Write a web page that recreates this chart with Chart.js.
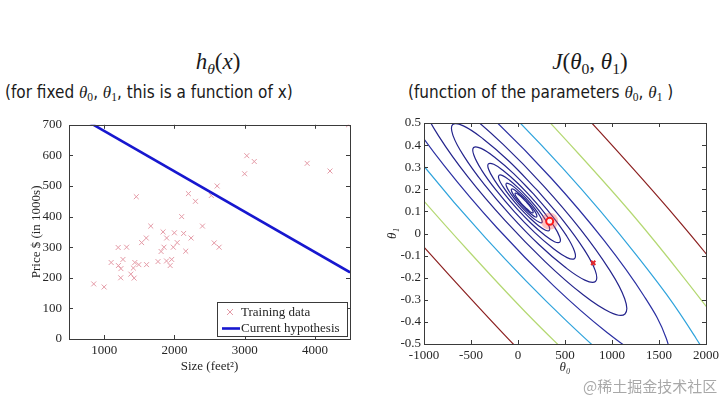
<!DOCTYPE html>
<html>
<head>
<meta charset="utf-8">
<script src="https://cdn.jsdelivr.net/npm/chart.js@4.4.0/dist/chart.umd.min.js"></script>
<style>
  html, body { margin: 0; padding: 0; background: #fff; }
  body { width: 725px; height: 398px; position: relative; overflow: hidden; }
  canvas { position: absolute; }
  #left { left: 0; top: 110px; }
  #right { left: 362px; top: 110px; }
  .title { position: absolute; width: 220px; text-align: center; font-family: 'Liberation Serif', serif; font-size: 23px; line-height: 23px; color: #1a1a1a; white-space: nowrap; }
  .sub { position: absolute; font-family: 'Liberation Sans Narrow', 'DejaVu Sans Condensed', sans-serif; font-size: 17px; line-height: 20px; color: #1a1a1a; white-space: nowrap; }
  .m { font-family: 'Liberation Serif', serif; font-style: italic; }
  .s { font-family: 'Liberation Serif', serif; font-size: 0.68em; vertical-align: -0.3em; }
  .mark { position: absolute; left: 583px; top: 375px; font-family: 'Noto Sans CJK SC', sans-serif; font-size: 15px; color: rgba(110,110,110,0.6); white-space: nowrap; }
</style>
</head>
<body>
<div class="title" style="left:108px; top:50px"><i>h</i><span class="s"><i>θ</i></span>(<i>x</i>)</div>
<div class="title" style="left:480px; top:50px"><i>J</i>(<i>θ</i><span class="s">0</span>, <i>θ</i><span class="s">1</span>)</div>
<div class="sub" style="left:5px; top:82px">(for fixed <span class="m">θ</span><span class="s">0</span>, <span class="m">θ</span><span class="s">1</span>, this is a function of x)</div>
<div class="sub" style="left:408px; top:82px">(function of the parameters <span class="m">θ</span><span class="s">0</span>, <span class="m">θ</span><span class="s">1</span> )</div>
<canvas id="left" width="362" height="265"></canvas>
<canvas id="right" width="363" height="275"></canvas>
<div class="mark">@稀土掘金技术社区</div>
<script>
// training data: size (feet^2) and price ($1000s)
const houseSize = [2104, 1600, 2400, 1416, 3000, 1985, 1534, 1427, 1380, 1494, 1940, 2000, 1890, 4478, 1268, 2300,
  1320, 1236, 2609, 3031, 1767, 1888, 1604, 1962, 3890, 1100, 1458, 2526, 2200, 2637, 1839, 1000, 2040, 3137,
  1811, 1437, 1239, 2132, 4215, 2162, 1664, 2238, 2567, 1200, 852, 1852, 1203];
const housePrice = [400, 330, 369, 232, 540, 300, 315, 199, 212, 243, 240, 347, 330, 700, 260, 450,
  300, 200, 500, 599, 253, 255, 243, 260, 574, 250, 465, 469, 475, 300, 350, 170, 315, 580,
  286, 250, 230, 345, 549, 287, 369, 330, 314, 299, 180, 300, 240];

// current hypothesis line, read at the two ends
const hypothesisX = [500, 4500];
const hypothesisY = [746, 218];

const sizeTicks = [1000, 2000, 3000, 4000];
const priceTicks = [0, 100, 200, 300, 400, 500, 600, 700];
const theta0Ticks = [-1000, -500, 0, 500, 1000, 1500, 2000];
const theta1Ticks = [-0.5, -0.4, -0.3, -0.2, -0.1, 0, 0.1, 0.2, 0.3, 0.4, 0.5];

// contour lines of J, traced as [theta0, theta1] points (inner to outer)
const contourLevel1 = [[83,0.145],[45,0.162],[11,0.174],[-16,0.182],[-30,0.182],[-30,0.176],[-15,0.164],[12,0.149],[47,0.131],[85,0.115],[119,0.102],[146,0.094],[160,0.094],[160,0.100],[145,0.112],[118,0.128],[83,0.145]];
const contourLevel2 = [[91,0.148],[37,0.171],[-12,0.189],[-49,0.200],[-69,0.201],[-69,0.192],[-48,0.175],[-10,0.153],[40,0.128],[93,0.105],[142,0.087],[179,0.076],[199,0.075],[199,0.084],[178,0.101],[140,0.123],[91,0.148]];
const contourLevel3 = [[101,0.152],[26,0.185],[-44,0.211],[-97,0.225],[-125,0.227],[-124,0.215],[-95,0.191],[-41,0.159],[29,0.124],[104,0.091],[174,0.065],[227,0.051],[255,0.049],[254,0.061],[225,0.085],[171,0.117],[101,0.152]];
const contourLevel4 = [[116,0.158],[9,0.204],[-89,0.241],[-163,0.262],[-203,0.263],[-203,0.246],[-161,0.213],[-85,0.168],[14,0.118],[121,0.072],[219,0.035],[293,0.015],[333,0.013],[333,0.030],[291,0.063],[215,0.108],[116,0.158]];
const contourLevel5 = [[137,0.166],[-14,0.232],[-152,0.283],[-258,0.313],[-315,0.315],[-313,0.291],[-254,0.244],[-147,0.180],[-7,0.110],[144,0.044],[282,-0.007],[388,-0.037],[445,-0.039],[443,-0.015],[384,0.033],[277,0.096],[137,0.166]];
const contourLevel6 = [[167,0.178],[-46,0.271],[-242,0.343],[-392,0.385],[-472,0.389],[-470,0.355],[-387,0.287],[-235,0.197],[-37,0.098],[176,0.005],[372,-0.067],[522,-0.109],[602,-0.113],[600,-0.079],[517,-0.011],[365,0.079],[167,0.178]];
const contourLevel7 = [[209,0.194],[-92,0.326],[-370,0.428],[-581,0.487],[-694,0.493],[-692,0.444],[-574,0.349],[-359,0.222],[-79,0.082],[222,-0.050],[500,-0.152],[711,-0.211],[824,-0.217],[822,-0.168],[704,-0.073],[489,0.054],[209,0.194]];
// outer levels start at their upper-left end, outside the plot
const contourLevel8 = [[-1008,0.640],[-1005,0.571],[-838,0.437],[-535,0.257],[-139,0.059],[288,-0.127],[680,-0.273],[979,-0.356],[1138,-0.364],[1135,-0.295],[968,-0.161],[665,0.019],[269,0.217],[-158,0.403],[-550,0.549],[-849,0.632],[-1008,0.640]];
const contourLevel9 = [[-1453,0.847],[-1448,0.751],[-1212,0.560],[-783,0.306],[-224,0.026],[380,-0.237],[934,-0.443],[1357,-0.561],[1583,-0.571],[1578,-0.475],[1342,-0.284],[913,-0.030],[354,0.250],[-250,0.513],[-804,0.719],[-1227,0.837],[-1453,0.847]];
const contourLevel10 = [[-2082,1.141],[-2075,1.004],[-1741,0.735],[-1134,0.376],[-343,-0.021],[510,-0.393],[1294,-0.683],[1892,-0.850],[2212,-0.865],[2205,-0.728],[1871,-0.459],[1264,-0.100],[473,0.297],[-380,0.669],[-1164,0.959],[-1762,1.126],[-2082,1.141]];
const contourLevel11 = [[-2971,1.557],[-2961,1.363],[-2489,0.982],[-1631,0.474],[-512,-0.086],[695,-0.613],[1803,-1.024],[2649,-1.259],[3101,-1.281],[3091,-1.087],[2619,-0.706],[1761,-0.198],[642,0.362],[-565,0.889],[-1673,1.300],[-2519,1.535],[-2971,1.557]];
const contourLevel12 = [[-4228,2.144],[-4214,1.870],[-3547,1.332],[-2333,0.613],[-751,-0.179],[955,-0.924],[2523,-1.505],[3719,-1.838],[4358,-1.868],[4344,-1.594],[3677,-1.056],[2463,-0.337],[881,0.455],[-825,1.200],[-2393,1.781],[-3589,2.114],[-4228,2.144]];

const contourLevels = [contourLevel1, contourLevel2, contourLevel3, contourLevel4, contourLevel5, contourLevel6,
  contourLevel7, contourLevel8, contourLevel9, contourLevel10, contourLevel11, contourLevel12];
const contourColors = ['#24248c', '#24248c', '#24248c', '#24248c', '#24248c', '#24248c',
  '#24248c', '#24248c', '#2a2fa2', '#2ea3dc', '#b4d872', '#8b1f1f'];

// current (theta0, theta1) and the pointer on the contour plot
const currentTheta = [800, -0.133];
const pointerTheta = [337, 0.055];

const serif = { family: "'Liberation Serif', 'Times New Roman', serif", size: 13 };
const ink = '#262626';

const axesBox = {
  id: 'axesBox',
  afterDatasetsDraw(chart) {
    const { ctx, chartArea: a, scales: { x, y } } = chart;
    ctx.save();
    ctx.strokeStyle = '#3a3a3a';
    ctx.lineWidth = 1;
    ctx.beginPath();
    x.ticks.forEach(t => {
      const px = Math.round(x.getPixelForValue(t.value)) + 0.5;
      ctx.moveTo(px, a.bottom); ctx.lineTo(px, a.bottom - 4);
      ctx.moveTo(px, a.top); ctx.lineTo(px, a.top + 4);
    });
    y.ticks.forEach(t => {
      const py = Math.round(y.getPixelForValue(t.value)) + 0.5;
      ctx.moveTo(a.left, py); ctx.lineTo(a.left + 4, py);
      ctx.moveTo(a.right, py); ctx.lineTo(a.right - 4, py);
    });
    ctx.stroke();
    ctx.strokeRect(Math.round(a.left) + 0.5, Math.round(a.top) + 0.5, Math.round(a.width), Math.round(a.height));
    ctx.restore();
  }
};

const legendBox = {
  id: 'legendBox',
  afterDraw(chart) {
    const { ctx, chartArea: a } = chart;
    const train = chart.data.datasets.find(d => d.label === 'Training data');
    const hyp = chart.data.datasets.find(d => d.label === 'Current hypothesis');
    const w = 130, h = 34;
    const x0 = Math.round(a.right - 3 - w), y0 = Math.round(a.bottom - 3 - h);
    ctx.save();
    ctx.fillStyle = '#fff';
    ctx.fillRect(x0, y0, w, h);
    ctx.strokeStyle = '#3a3a3a';
    ctx.lineWidth = 1;
    ctx.strokeRect(x0 + 0.5, y0 + 0.5, w, h);
    // cross marker
    ctx.strokeStyle = train.borderColor;
    ctx.beginPath();
    ctx.moveTo(x0 + 10, y0 + 7); ctx.lineTo(x0 + 16, y0 + 13);
    ctx.moveTo(x0 + 16, y0 + 7); ctx.lineTo(x0 + 10, y0 + 13);
    ctx.stroke();
    // line sample
    ctx.strokeStyle = hyp.borderColor;
    ctx.lineWidth = hyp.borderWidth;
    ctx.beginPath();
    ctx.moveTo(x0 + 5, y0 + 26.5); ctx.lineTo(x0 + 23, y0 + 26.5);
    ctx.stroke();
    ctx.fillStyle = ink;
    ctx.font = "13px 'Liberation Serif', serif";
    ctx.textBaseline = 'middle';
    ctx.fillText(train.label, x0 + 24, y0 + 10.5);
    ctx.fillText(hyp.label, x0 + 24, y0 + 26.5);
    ctx.restore();
  }
};

new Chart(document.getElementById('left'), {
  type: 'scatter',
  data: {
    datasets: [
      {
        label: 'Current hypothesis',
        data: hypothesisX.map((x, i) => ({ x, y: hypothesisY[i] })),
        showLine: true,
        borderColor: '#1717cf',
        borderWidth: 2.6,
        pointRadius: 0,
        order: 0
      },
      {
        label: 'Training data',
        data: houseSize.map((x, i) => ({ x, y: housePrice[i] })),
        pointStyle: 'crossRot',
        pointRadius: 3.5,
        borderColor: '#e49aa6',
        borderWidth: 1,
        order: 1
      }
    ]
  },
  options: {
    responsive: false,
    animation: false,
    layout: { padding: { top: 13, right: 12, bottom: 0, left: 0 } },
    plugins: { legend: { display: false }, tooltip: { enabled: false } },
    scales: {
      x: {
        type: 'linear', min: 500, max: 4500,
        afterBuildTicks: s => { s.ticks = sizeTicks.map(v => ({ value: v })); },
        afterFit: s => { s.height = 36; },
        grid: { display: false, drawTicks: false }, border: { display: false },
        ticks: { font: serif, color: ink, padding: 4, maxRotation: 0, autoSkip: false, callback: v => String(v) },
        title: { display: true, text: 'Size (feet²)', font: serif, color: ink, padding: { top: 0, bottom: 1 } }
      },
      y: {
        type: 'linear', min: 0, max: 700,
        afterBuildTicks: s => { s.ticks = priceTicks.map(v => ({ value: v })); },
        afterFit: s => { s.width = 69; },
        grid: { display: false, drawTicks: false }, border: { display: false },
        ticks: { font: serif, color: ink, padding: 7, autoSkip: false, callback: v => String(v) },
        title: { display: true, text: 'Price $ (in 1000s)', font: serif, color: ink, padding: { top: 29, bottom: 0 } }
      }
    }
  },
  plugins: [axesBox, legendBox]
});

const contourSets = contourLevels.map((pts, i) => ({
  label: 'level ' + (i + 1),
  data: pts.map(p => ({ x: p[0], y: p[1] })),
  showLine: true,
  tension: 0.4,
  borderColor: contourColors[i],
  borderWidth: 1.2,
  pointRadius: 0,
  order: 10
}));

new Chart(document.getElementById('right'), {
  type: 'scatter',
  data: {
    datasets: [
      ...contourSets,
      {
        label: 'current',
        data: [{ x: currentTheta[0], y: currentTheta[1] }],
        pointStyle: 'crossRot', pointRadius: 3, borderWidth: 2, borderColor: '#e3262c', order: 1
      },
      {
        label: 'pointer',
        data: [{ x: pointerTheta[0], y: pointerTheta[1] }],
        pointRadius: 3.5, borderWidth: 2, borderColor: '#ff1a1a', backgroundColor: 'rgba(255,255,255,0.85)', order: 0
      },
      {
        label: 'pointer glow',
        data: [{ x: pointerTheta[0], y: pointerTheta[1] }],
        pointRadius: 8.5, borderWidth: 0, backgroundColor: 'rgba(255,80,80,0.35)', order: 2
      }
    ]
  },
  options: {
    responsive: false,
    animation: false,
    elements: { line: { capBezierPoints: false } },
    layout: { padding: { top: 13, right: 19, bottom: 0, left: 0 } },
    plugins: { legend: { display: false }, tooltip: { enabled: false } },
    scales: {
      x: {
        type: 'linear', min: -1000, max: 2000,
        afterBuildTicks: s => { s.ticks = theta0Ticks.map(v => ({ value: v })); },
        afterFit: s => { s.height = 41; },
        grid: { display: false, drawTicks: false }, border: { display: false },
        ticks: { font: serif, color: ink, padding: 4, maxRotation: 0, autoSkip: false, callback: v => String(v) },
        title: { display: true, text: 'θ₀', font: { ...serif, style: 'italic' }, color: ink, padding: { top: 0, bottom: 10 } }
      },
      y: {
        type: 'linear', min: -0.5, max: 0.5,
        afterBuildTicks: s => { s.ticks = theta1Ticks.map(v => ({ value: v })); },
        afterFit: s => { s.width = 62; },
        grid: { display: false, drawTicks: false }, border: { display: false },
        ticks: { font: serif, color: ink, padding: 3, autoSkip: false, callback: v => String(Math.round(v * 10) / 10) },
        title: { display: true, text: 'θ₁', font: { ...serif, style: 'italic' }, color: ink, padding: { top: 23, bottom: 0 } }
      }
    }
  },
  plugins: [axesBox]
});
</script>
</body>
</html>
